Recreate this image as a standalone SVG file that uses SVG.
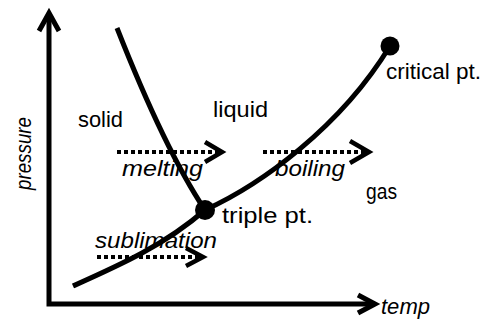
<svg xmlns="http://www.w3.org/2000/svg" width="482" height="320" viewBox="0 0 482 320">
<style>
.ax{fill:none;stroke:#000;stroke-width:5;stroke-linejoin:miter}
.cv{fill:none;stroke:#000;stroke-width:5;stroke-linecap:butt}
.dash{fill:none;stroke:#000;stroke-width:4;stroke-dasharray:4 3}
.hd{fill:none;stroke:#000;stroke-width:4.5;stroke-linejoin:miter}
.t{font-family:"Liberation Sans",Arial,sans-serif;font-size:22px;fill:#000}
.i{font-style:italic}
</style>
<rect width="482" height="320" fill="#fff"/>
<g id="axes">
<polyline class="ax" points="49,13 49,304 375,304"/>
<polyline class="ax" points="39,31 49,13 59,31"/>
<polyline class="ax" points="358,295 375,304 358,313"/>
<text class="t i" x="381" y="314" textLength="49" lengthAdjust="spacingAndGlyphs">temp</text>
<text class="t i" transform="translate(31,190) rotate(-90)" textLength="73" lengthAdjust="spacingAndGlyphs">pressure</text>
</g>
<g id="connectors">
<path class="cv" d="M117,28 Q165,150 205,210"/>
<path class="cv" d="M73,286 C120,265 165,245 205,210"/>
<path class="cv" d="M205,210 C260,185 340,128 390,46"/>
</g>
<g id="triple">
<circle cx="205" cy="210" r="10" fill="#000"/>
<text class="t" x="222" y="223" textLength="91" lengthAdjust="spacingAndGlyphs">triple pt.</text>
</g>
<g id="critical">
<circle cx="390" cy="46" r="9.5" fill="#000"/>
<text class="t" x="386" y="79" textLength="95" lengthAdjust="spacingAndGlyphs">critical pt.</text>
</g>
<g id="solid"><text class="t" x="78" y="127" textLength="45" lengthAdjust="spacingAndGlyphs">solid</text></g>
<g id="liquid"><text class="t" x="213" y="117" textLength="55" lengthAdjust="spacingAndGlyphs">liquid</text></g>
<g id="gas"><text class="t" x="366" y="199" textLength="31" lengthAdjust="spacingAndGlyphs">gas</text></g>
<g id="melting">
<line class="dash" x1="117" y1="152" x2="220" y2="152"/>
<polyline class="hd" points="205,142 222,152 205,162"/>
<text class="t i" x="122" y="176" textLength="81" lengthAdjust="spacingAndGlyphs">melting</text>
</g>
<g id="boiling">
<line class="dash" x1="263" y1="152" x2="367" y2="152"/>
<polyline class="hd" points="350,141 369,152 350,163"/>
<text class="t i" x="275" y="176" textLength="70" lengthAdjust="spacingAndGlyphs">boiling</text>
</g>
<g id="sublimation">
<line class="dash" x1="97" y1="257" x2="201" y2="257"/>
<polyline class="hd" points="186,248 203,257 186,266"/>
<text class="t i" x="95" y="248" textLength="122" lengthAdjust="spacingAndGlyphs">sublimation</text>
</g>
</svg>
